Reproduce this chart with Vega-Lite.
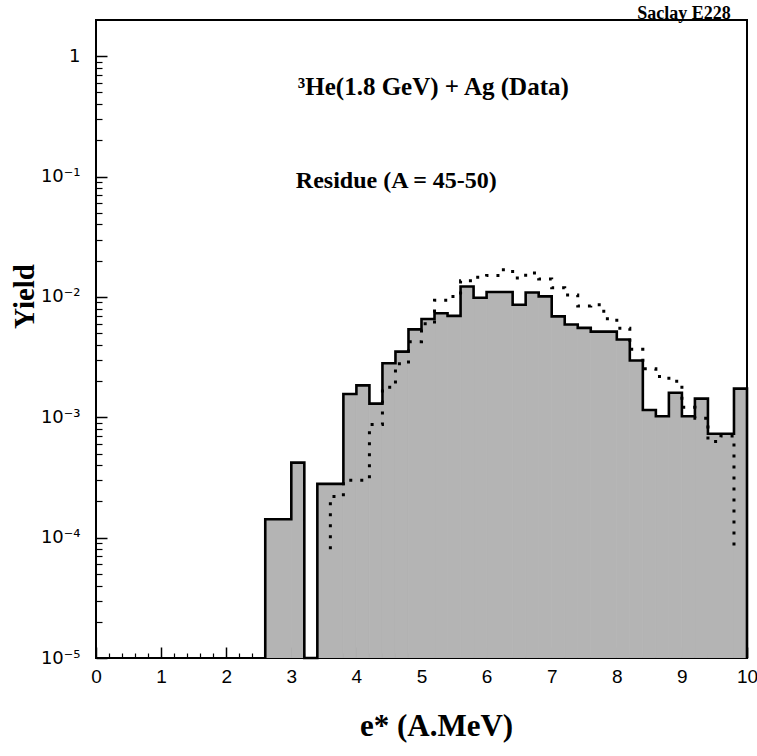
{
  "$schema": "https://vega.github.io/schema/vega-lite/v6.json",
  "width": 651,
  "height": 638,
  "autosize": {"type": "none"},
  "padding": {"left": 96, "top": 20, "right": 10, "bottom": 98},
  "background": "white",
  "config": {
    "view": {"stroke": "black", "strokeWidth": 2},
    "axis": {"grid": false, "domain": false, "tickColor": "black", "labelColor": "black", "titleColor": "black", "zindex": 1}
  },
  "datasets": {
    "data": [
      {"x0": 2.6, "x1": 2.6, "yield": 0.00001},
      {"x0": 2.6, "x1": 3.0, "yield": 0.000142},
      {"x0": 3.0, "x1": 3.2, "yield": 0.00042},
      {"x0": 3.2, "x1": 3.4, "yield": 0.00001},
      {"x0": 3.4, "x1": 3.8, "yield": 0.00028},
      {"x0": 3.8, "x1": 4.0, "yield": 0.00156},
      {"x0": 4.0, "x1": 4.2, "yield": 0.00184},
      {"x0": 4.2, "x1": 4.4, "yield": 0.0013},
      {"x0": 4.4, "x1": 4.6, "yield": 0.00281},
      {"x0": 4.6, "x1": 4.8, "yield": 0.00351},
      {"x0": 4.8, "x1": 5.0, "yield": 0.00538},
      {"x0": 5.0, "x1": 5.2, "yield": 0.00656},
      {"x0": 5.2, "x1": 5.4, "yield": 0.00731},
      {"x0": 5.4, "x1": 5.6, "yield": 0.00696},
      {"x0": 5.6, "x1": 5.8, "yield": 0.0122},
      {"x0": 5.8, "x1": 6.0, "yield": 0.00985},
      {"x0": 6.0, "x1": 6.4, "yield": 0.011},
      {"x0": 6.4, "x1": 6.6, "yield": 0.0086},
      {"x0": 6.6, "x1": 6.8, "yield": 0.0109},
      {"x0": 6.8, "x1": 7.0, "yield": 0.0101},
      {"x0": 7.0, "x1": 7.2, "yield": 0.0069},
      {"x0": 7.2, "x1": 7.4, "yield": 0.0059},
      {"x0": 7.4, "x1": 7.6, "yield": 0.00553},
      {"x0": 7.6, "x1": 8.0, "yield": 0.00515},
      {"x0": 8.0, "x1": 8.2, "yield": 0.00443},
      {"x0": 8.2, "x1": 8.4, "yield": 0.00296},
      {"x0": 8.4, "x1": 8.6, "yield": 0.00115},
      {"x0": 8.6, "x1": 8.8, "yield": 0.00102},
      {"x0": 8.8, "x1": 9.0, "yield": 0.0016},
      {"x0": 9.0, "x1": 9.2, "yield": 0.00102},
      {"x0": 9.2, "x1": 9.4, "yield": 0.00143},
      {"x0": 9.4, "x1": 9.8, "yield": 0.00073},
      {"x0": 9.8, "x1": 10.0, "yield": 0.00173},
      {"x0": 10.0, "x1": 10.0, "yield": 0.00001}
    ],
    "model": [
      {"x0": 3.6, "yield": 0.00008},
      {"x0": 3.6, "yield": 0.00022},
      {"x0": 3.8, "yield": 0.0003},
      {"x0": 4.2, "yield": 0.00087},
      {"x0": 4.4, "yield": 0.00178},
      {"x0": 4.6, "yield": 0.00278},
      {"x0": 4.8, "yield": 0.00425},
      {"x0": 5.0, "yield": 0.006},
      {"x0": 5.2, "yield": 0.0094},
      {"x0": 5.4, "yield": 0.0101},
      {"x0": 5.6, "yield": 0.0136},
      {"x0": 5.8, "yield": 0.0146},
      {"x0": 6.0, "yield": 0.0151},
      {"x0": 6.2, "yield": 0.0168},
      {"x0": 6.4, "yield": 0.0144},
      {"x0": 6.6, "yield": 0.0158},
      {"x0": 6.8, "yield": 0.0141},
      {"x0": 7.0, "yield": 0.0119},
      {"x0": 7.2, "yield": 0.0104},
      {"x0": 7.4, "yield": 0.0084},
      {"x0": 7.6, "yield": 0.0086},
      {"x0": 7.8, "yield": 0.0066},
      {"x0": 8.0, "yield": 0.0055},
      {"x0": 8.2, "yield": 0.00367},
      {"x0": 8.4, "yield": 0.00253},
      {"x0": 8.6, "yield": 0.00218},
      {"x0": 8.8, "yield": 0.00199},
      {"x0": 9.0, "yield": 0.00121},
      {"x0": 9.2, "yield": 0.00098},
      {"x0": 9.4, "yield": 0.00063},
      {"x0": 9.6, "yield": 0.0007},
      {"x0": 9.8, "yield": 0.00008}
    ],
    "labels": [
      {"label": "³He(1.8 GeV) + Ag (Data)", "x": 3.1, "yield": 0.48, "size": 25},
      {"label": "Residue (A = 45-50)", "x": 3.07, "yield": 0.081, "size": 24}
    ]
  },
  "resolve": {"axis": {"x": "independent", "y": "independent"}},
  "layer": [
    {
      "data": {"name": "data"},
      "mark": {"type": "bar", "fill": "#b4b4b4", "stroke": "#b4b4b4", "strokeWidth": 0.8, "clip": true},
      "encoding": {
        "x": {"field": "x0", "type": "quantitative",
          "scale": {"domain": [0, 10], "nice": false, "zero": false},
          "axis": {"orient": "bottom", "values": [0,1,2,3,4,5,6,7,8,9,10], "tickSize": -11, "tickWidth": 1.5,
            "labelFont": "Liberation Sans", "labelFontSize": 19, "labelPadding": 20, "labelFlush": false, "labelBaseline": "top",
            "title": "e* (A.MeV)", "titleFont": "Liberation Serif", "titleFontWeight": "bold", "titleFontSize": 31,
            "titleX": 340, "titleY": 77, "titleBaseline": "alphabetic", "titleAlign": "center"}},
        "x2": {"field": "x1"},
        "y": {"field": "yield", "type": "quantitative",
          "scale": {"type": "log", "domain": [0.00001, 2.0], "nice": false},
          "axis": {"orient": "left", "values": [0.00001, 0.0001, 0.001, 0.01, 0.1, 1], "tickSize": -11, "tickWidth": 1.5,
            "labelExpr": "datum.value > 0.5 ? '1' : '10' + ['','⁻¹','⁻²','⁻³','⁻⁴','⁻⁵'][round(-log(datum.value)/LN10)]",
            "labelFont": "DejaVu Sans", "labelFontSize": 18, "labelPadding": 27, "labelFlush": false,
            "title": "Yield", "titleFont": "Liberation Serif", "titleFontWeight": "bold", "titleFontSize": 29,
            "titleAngle": 270, "titleX": -63, "titleY": 276, "titleBaseline": "alphabetic", "titleAlign": "center"}},
        "y2": {"datum": 0.00001}
      }
    },
    {
      "data": {"name": "data"},
      "mark": {"type": "line", "interpolate": "step-after", "color": "black", "strokeWidth": 2.6},
      "encoding": {
        "x": {"field": "x0", "type": "quantitative",
          "axis": {"orient": "bottom", "values": [0.2,0.4,0.6,0.8,1.2,1.4,1.6,1.8,2.2,2.4,2.6,2.8,3.2,3.4,3.6,3.8,4.2,4.4,4.6,4.8,5.2,5.4,5.6,5.8,6.2,6.4,6.6,6.8,7.2,7.4,7.6,7.8,8.2,8.4,8.6,8.8,9.2,9.4,9.6,9.8],
            "tickSize": -5, "tickWidth": 1.2, "labels": false, "title": null}},
        "y": {"field": "yield", "type": "quantitative",
          "axis": {"orient": "left", "values": [0.00002,0.00003,0.00004,0.00005,0.00006,0.00007,0.00008,0.00009,0.0002,0.0003,0.0004,0.0005,0.0006,0.0007,0.0008,0.0009,0.002,0.003,0.004,0.005,0.006,0.007,0.008,0.009,0.02,0.03,0.04,0.05,0.06,0.07,0.08,0.09,0.2,0.3,0.4,0.5,0.6,0.7,0.8,0.9],
            "tickSize": -6, "tickWidth": 1.2, "labels": false, "title": null}}
      }
    },
    {
      "data": {"name": "model"},
      "mark": {"type": "line", "interpolate": "step-after", "color": "black", "strokeWidth": 3, "strokeDash": [3, 8]},
      "encoding": {
        "x": {"field": "x0", "type": "quantitative", "axis": null},
        "y": {"field": "yield", "type": "quantitative", "axis": null}
      }
    },
    {
      "data": {"name": "labels"},
      "mark": {"type": "text", "font": "Liberation Serif", "fontWeight": "bold", "align": "left", "baseline": "alphabetic", "color": "black"},
      "encoding": {
        "text": {"field": "label"},
        "size": {"field": "size", "type": "quantitative", "scale": null, "legend": null},
        "x": {"field": "x", "type": "quantitative", "axis": null},
        "y": {"field": "yield", "type": "quantitative", "axis": null}
      }
    },
    {
      "data": {"values": [{"label": "Saclay E228", "x": 9.75, "yield": 2.0}]},
      "mark": {"type": "text", "font": "Liberation Serif", "fontWeight": "bold", "fontSize": 18, "align": "right", "baseline": "alphabetic", "color": "black", "dy": -1, "clip": false},
      "encoding": {
        "text": {"field": "label"},
        "x": {"field": "x", "type": "quantitative", "axis": null},
        "y": {"field": "yield", "type": "quantitative", "axis": null}
      }
    }
  ]
}
